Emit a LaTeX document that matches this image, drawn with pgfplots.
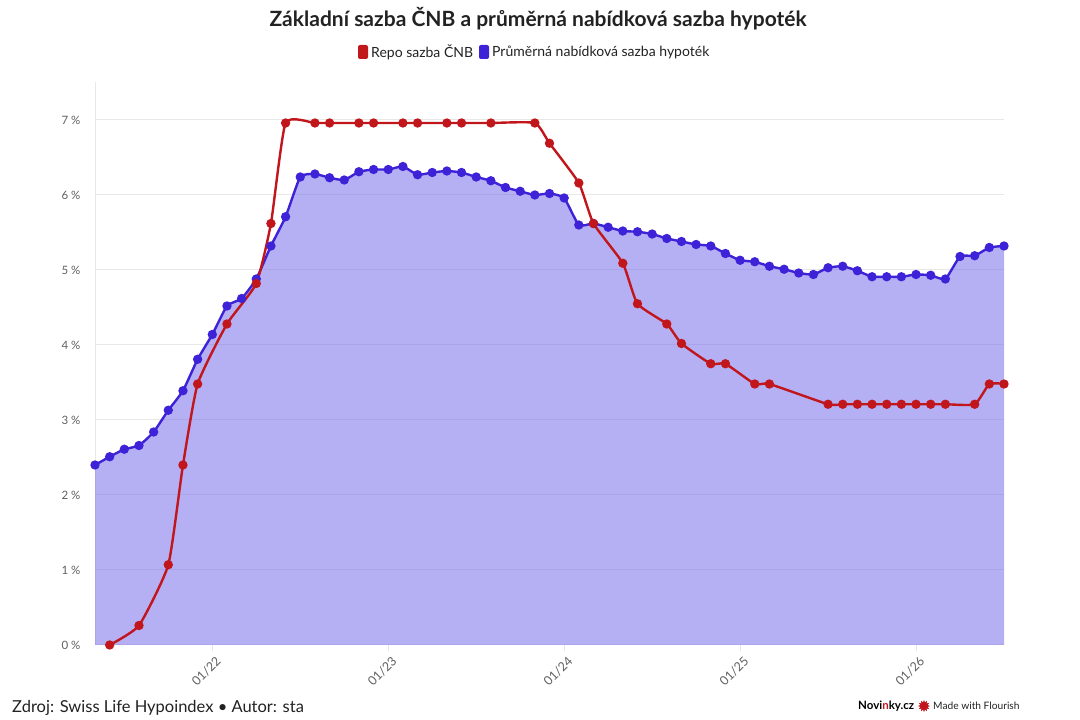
\documentclass[border=0pt]{standalone}
\usepackage{pgfplots}
\pgfplotsset{compat=1.18}
\usepackage{pgfplotstable}
\usepackage{fontspec}
\setmainfont{Lato}
\usetikzlibrary{shapes.geometric}
\definecolor{repo}{RGB}{192,22,28}
\definecolor{hypo}{RGB}{61,34,216}
\definecolor{hypofill}{RGB}{120,110,235}
\definecolor{gridc}{RGB}{232,232,232}
\definecolor{ticktext}{RGB}{95,95,95}
\definecolor{titletext}{RGB}{34,34,34}

\pgfplotstableread{
m v
-8 2.40
-7 2.51
-6 2.61
-5 2.66
-4 2.84
-3 3.13
-2 3.39
-1 3.81
0 4.14
1 4.52
2 4.62
3 4.88
4 5.32
5 5.71
6 6.24
7 6.28
8 6.23
9 6.20
10 6.31
11 6.34
12 6.34
13 6.38
14 6.27
15 6.30
16 6.32
17 6.30
18 6.24
19 6.19
20 6.10
21 6.05
22 6.00
23 6.02
24 5.96
25 5.60
26 5.62
27 5.57
28 5.52
29 5.51
30 5.48
31 5.42
32 5.38
33 5.34
34 5.32
35 5.22
36 5.13
37 5.11
38 5.05
39 5.01
40 4.96
41 4.94
42 5.03
43 5.05
44 4.99
45 4.91
46 4.91
47 4.91
48 4.94
49 4.93
50 4.88
51 5.18
52 5.19
53 5.30
54 5.32
}\hypotable

\pgfplotstableread{
m v
-7 0.00
-5 0.26
-3 1.07
-2 2.40
-1 3.48
1 4.28
3 4.82
4 5.62
5 6.96
7 6.96
8 6.96
10 6.96
11 6.96
13 6.96
14 6.96
16 6.96
17 6.96
19 6.96
22 6.96
23 6.69
25 6.16
26 5.62
28 5.09
29 4.55
31 4.28
32 4.02
34 3.75
35 3.75
37 3.48
38 3.48
42 3.21
43 3.21
44 3.21
45 3.21
46 3.21
47 3.21
48 3.21
49 3.21
50 3.21
52 3.21
53 3.48
54 3.48
}\repotable

\begin{document}
\begin{tikzpicture}[x=1pt,y=1pt]
\useasboundingbox (0,0) rectangle (1080,720);
\begin{axis}[
  at={(95pt,75pt)}, anchor=south west,
  scale only axis, width=909pt, height=562.5pt,
  xmin=-8, xmax=54, ymin=0, ymax=7.5,
  clip=false,
  axis x line*=bottom,
  axis y line*=left,
  x axis line style={draw=none},
  y axis line style={draw=gridc, line width=1pt, -},
  ymajorgrids, grid style={draw=gridc, line width=1pt},
  ytick={0,1,2,3,4,5,6,7},
  yticklabels={0 \%,1 \%,2 \%,3 \%,4 \%,5 \%,6 \%,7 \%},
  ytick style={draw=none},
  yticklabel style={font=\fontsize{11.5}{13}\selectfont, text=ticktext, xshift=-5pt},
  xtick={0,12,24,36,48},
  xticklabels={01/22,01/23,01/24,01/25,01/26},
  xtick style={draw=gridc, line width=1pt},
  tick align=outside, major tick length=6pt,
  xticklabel style={rotate=45, anchor=east, inner sep=0pt, font=\fontsize{12.5}{14}\selectfont, text=ticktext, xshift=-1pt, yshift=-10pt},
]
\addplot[draw=none, fill=hypofill, fill opacity=0.55, smooth, tension=0.3] table[x=m,y=v] {\hypotable} \closedcycle;
\addplot[draw=hypo, line width=2.4pt, smooth, tension=0.3, mark=*, mark size=3.4pt, mark options={solid, fill=hypo, draw=none}] table[x=m,y=v] {\hypotable};
\addplot[draw=repo, line width=2.4pt, smooth, tension=0.3, mark=*, mark size=3.4pt, mark options={solid, fill=repo, draw=none}] table[x=m,y=v] {\repotable};
\end{axis}
% title
\node[font=\fontsize{21}{25}\selectfont\bfseries, text=titletext] at (538,701) {Základní sazba ČNB a průměrná nabídková sazba hypoték};
% legend
\fill[repo, rounded corners=2pt] (358,661) rectangle (368,675);
\node[anchor=west, inner sep=0pt, font=\fontsize{14}{16}\selectfont, text=titletext] at (371,668) {Repo sazba ČNB};
\fill[hypo, rounded corners=2pt] (479,661) rectangle (489,675);
\node[anchor=west, inner sep=0pt, font=\fontsize{14}{16}\selectfont, text=titletext] at (492,668) {Průměrná nabídková sazba hypoték};
% footer
\node[anchor=west, inner sep=0pt, font=\fontsize{16.5}{18}\selectfont, text=titletext] at (12,12) {Zdroj: Swiss Life Hypoindex • Autor: sta};
\node[anchor=west, inner sep=0pt, font=\fontsize{11.5}{13}\selectfont\bfseries, text=black] at (858,14) {Novi\textcolor{repo}{n}ky.cz};
\node[star, star points=12, star point ratio=1.6, fill=repo, minimum size=12pt, inner sep=0pt] at (924,14) {};
\node[anchor=west, inner sep=0pt, font=\fontsize{10.2}{12}\selectfont, text=titletext] at (933,14) {Made with Flourish};
\end{tikzpicture}
\end{document}
